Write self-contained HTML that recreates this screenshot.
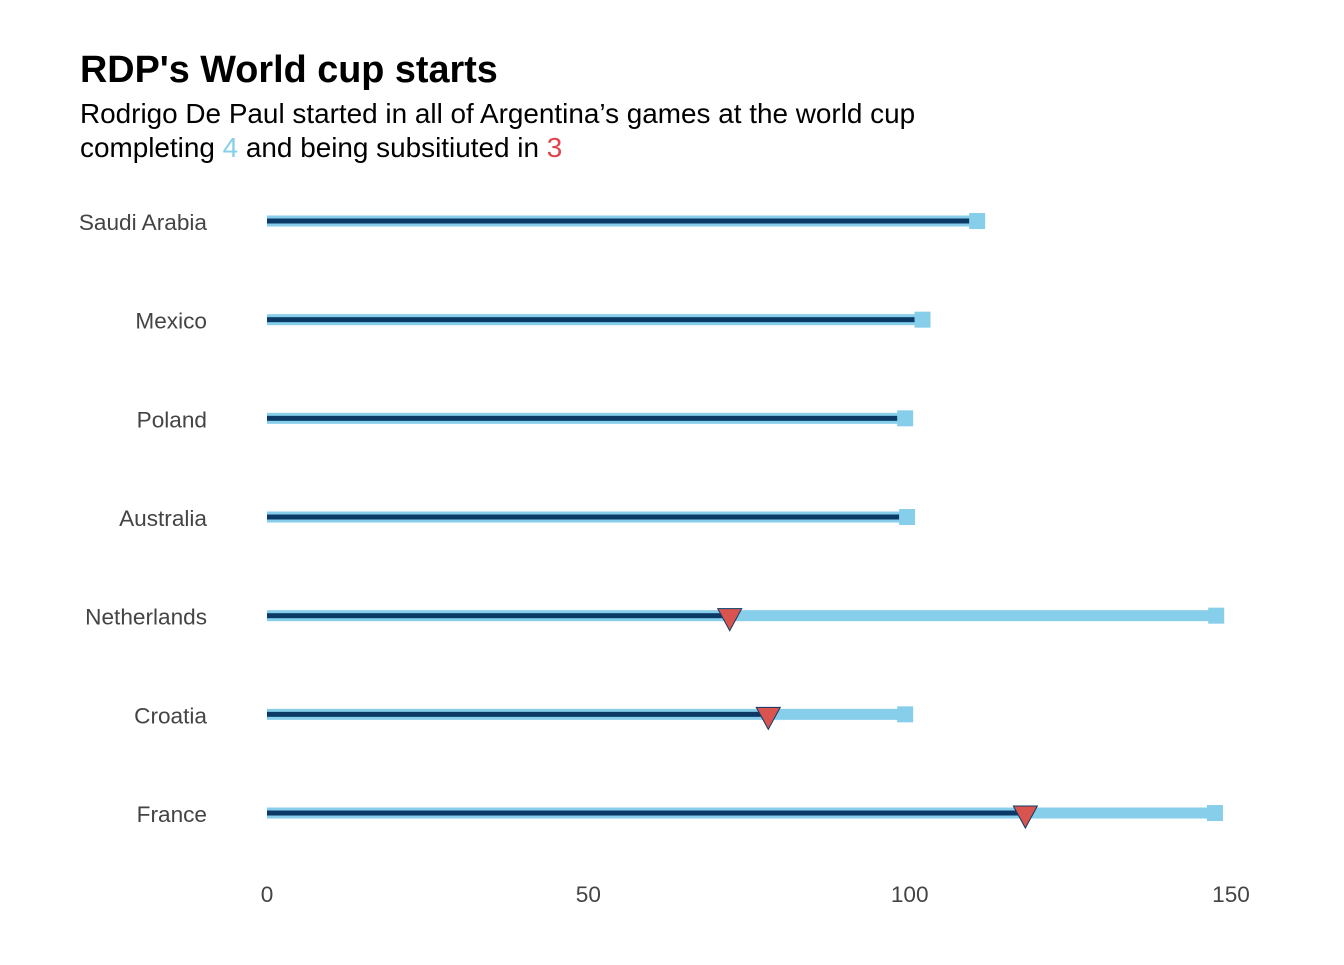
<!DOCTYPE html>
<html><head><meta charset="utf-8"><style>
body{margin:0;background:#fff;font-family:"Liberation Sans",Arial,sans-serif}
</style></head><body>
<svg id="c" width="1344" height="960" xmlns="http://www.w3.org/2000/svg">
<text x="80" y="82" font-size="37.8" font-weight="bold" fill="#000" font-family="Liberation Sans, sans-serif">RDP's World cup starts</text>
<text x="80" y="123" font-size="27.9" fill="#000" font-family="Liberation Sans, sans-serif">Rodrigo De Paul started in all of Argentina’s games at the world cup</text>
<text x="80" y="157" font-size="27.9" fill="#000" font-family="Liberation Sans, sans-serif">completing <tspan fill="#87CEEB">4</tspan> and being subsitiuted in <tspan fill="#e0434b">3</tspan></text>
<g id="plot"></g>
</svg>
<script>
const categories=["Saudi Arabia","Mexico","Poland","Australia","Netherlands","Croatia","France"];
const gameLength=[110.5,102,99.3,99.6,147.7,99.3,147.5];
const minutesPlayed=[110.5,102,99.3,99.6,72,78,118];
const substituted=[false,false,false,false,true,true,true];
const ticks=[0,50,100,150];
const NS="http://www.w3.org/2000/svg";
const g=document.getElementById('plot');
const x=v=>267+v*(1231-267)/150;
const y=i=>221+i*98.67;
function mk(t,a){const e=document.createElementNS(NS,t);for(const k in a)e.setAttribute(k,a[k]);g.appendChild(e);return e;}
categories.forEach((c,i)=>{
  const yy=y(i);
  const lab=mk('text',{x:207,y:yy+9,'font-size':22.6,'text-anchor':'end',fill:'#444','font-family':'Liberation Sans, sans-serif'});
  lab.textContent=c;
  
  
  const l=mk('rect',{x:x(0),y:yy-5.5,width:x(gameLength[i])-x(0),height:11,fill:'#87CEEB'});
  
  
  const d=mk('rect',{x:x(0),y:yy-2.5,width:x(minutesPlayed[i])-x(0),height:5,fill:'#0b3a66'});
  
  
  const s=mk('rect',{x:x(gameLength[i])-8,y:yy-8,width:16,height:16,fill:'#87CEEB'});
  
  
  if(substituted[i]){
    const px=x(minutesPlayed[i]);
    const t=mk('polygon',{points:`${px-12},${yy-7} ${px+12},${yy-7} ${px},${yy+15}`,fill:'#d9534f',stroke:'#0b3a66','stroke-width':1});
    
    
  }
});
ticks.forEach(t=>{
  const e=mk('text',{x:x(t),y:902,'font-size':22.6,'text-anchor':'middle',fill:'#444','font-family':'Liberation Sans, sans-serif'});
  e.textContent=t;
  
  
});
</script>
</body></html>
